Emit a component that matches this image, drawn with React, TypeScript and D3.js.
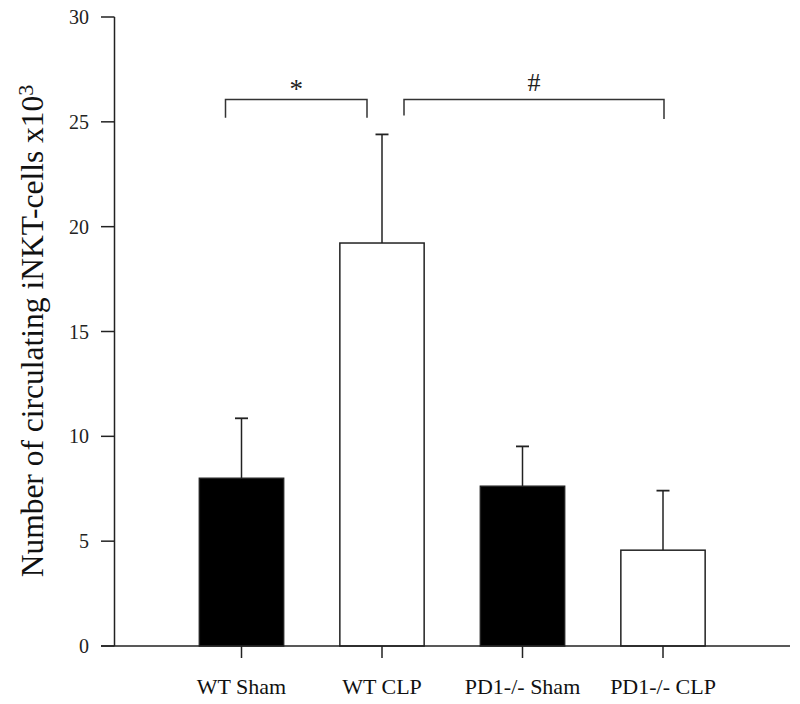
import React, { useEffect, useRef } from "react";
import * as d3 from "d3";

const categories = ["WT Sham", "WT CLP", "PD1-/- Sham", "PD1-/- CLP"];
const means = [8.0, 19.22, 7.62, 4.57];
const errors = [2.86, 5.18, 1.9, 2.84];
const fills = ["#000", "#fff", "#000", "#fff"];
const yTicks = [0, 5, 10, 15, 20, 25, 30];
const brackets = [
  { from: 0, to: 1, label: "*", fromOff: -16, toOff: -15, level: 26.07, dropL: 0.87, dropR: 0.87 },
  { from: 1, to: 3, label: "#", fromOff: 22, toOff: 1, level: 26.07, dropL: 0.77, dropR: 0.93 },
];

export default function App() {
  const ref = useRef<SVGSVGElement>(null);
  useEffect(() => {
    const svg = d3.select(ref.current);
    svg.selectAll("*").remove();
    const font = "'Liberation Serif', 'Times New Roman', serif";
    const stroke = "#222";
    const y = d3.scaleLinear().domain([0, 30]).range([646, 17]);
    const x = d3.scaleBand<string>().domain(categories).range([171.25, 733.25]).paddingInner(0.4).paddingOuter(0.2);
    const axisX = 114.5;

    // y axis
    svg.append("line").attr("x1", axisX).attr("x2", axisX).attr("y1", y(30)).attr("y2", y(0)).attr("stroke", stroke).attr("stroke-width", 1.5);
    const yt = svg.append("g");
    yTicks.forEach((t) => {
      yt.append("line").attr("x1", 101).attr("x2", axisX).attr("y1", y(t)).attr("y2", y(t)).attr("stroke", stroke).attr("stroke-width", 1.5);
      yt.append("text").attr("x", 89).attr("y", y(t)).attr("dy", "0.35em").attr("text-anchor", "end")
        .attr("font-family", font).attr("font-size", 20).attr("fill", "#222").text(String(t));
    });

    // bars
    categories.forEach((c, i) => {
      const x0 = x(c)!;
      const bw = x.bandwidth();
      const cx = x0 + bw / 2;
      svg.append("line").attr("x1", cx).attr("x2", cx).attr("y1", y(means[i])).attr("y2", y(means[i] + errors[i])).attr("stroke", stroke).attr("stroke-width", 1.5);
      svg.append("line").attr("x1", cx - 6.5).attr("x2", cx + 6.5).attr("y1", y(means[i] + errors[i])).attr("y2", y(means[i] + errors[i])).attr("stroke", stroke).attr("stroke-width", 1.8);
      svg.append("rect").attr("x", x0).attr("y", y(means[i])).attr("width", bw).attr("height", y(0) - y(means[i]))
        .attr("fill", fills[i]).attr("stroke", stroke).attr("stroke-width", 1.5);
      svg.append("line").attr("x1", cx).attr("x2", cx).attr("y1", y(0)).attr("y2", y(0) + 12).attr("stroke", stroke).attr("stroke-width", 1.5);
      svg.append("text").attr("x", cx).attr("y", 694).attr("text-anchor", "middle")
        .attr("font-family", font).attr("font-size", 22).attr("fill", "#111").text(c);
    });

    // x axis
    svg.append("line").attr("x1", 101).attr("x2", 790).attr("y1", y(0)).attr("y2", y(0)).attr("stroke", stroke).attr("stroke-width", 1.5);

    // brackets
    brackets.forEach((b) => {
      const xl = x(categories[b.from])! + x.bandwidth() / 2 + b.fromOff;
      const xr = x(categories[b.to])! + x.bandwidth() / 2 + b.toOff;
      const yl = y(b.level);
      const path = d3.path();
      path.moveTo(xl, y(b.level - b.dropL));
      path.lineTo(xl, yl);
      path.lineTo(xr, yl);
      path.lineTo(xr, y(b.level - b.dropR));
      svg.append("path").attr("d", path.toString()).attr("fill", "none").attr("stroke", "#333").attr("stroke-width", 1.5);
      svg.append("text").attr("x", (xl + xr) / 2).attr("y", b.label === "*" ? yl - 1 : yl - 8).attr("text-anchor", "middle")
        .attr("font-family", font).attr("font-size", b.label === "*" ? 27 : 26).attr("fill", "#222")
        .text(b.label);
    });

    // y label
    const lbl = svg.append("text").attr("transform", `translate(43, 331) rotate(-90)`).attr("text-anchor", "middle")
      .attr("font-family", font).attr("font-size", 31.5).attr("fill", "#111");
    lbl.append("tspan").text("Number of circulating iNKT-cells x10");
    lbl.append("tspan").attr("dy", "-0.45em").attr("font-size", 22).text("3");
  }, []);
  return (
    <svg ref={ref} width={800} height={704} style={{ position: "absolute", left: 0, top: 0, background: "#fff" }} />
  );
}
